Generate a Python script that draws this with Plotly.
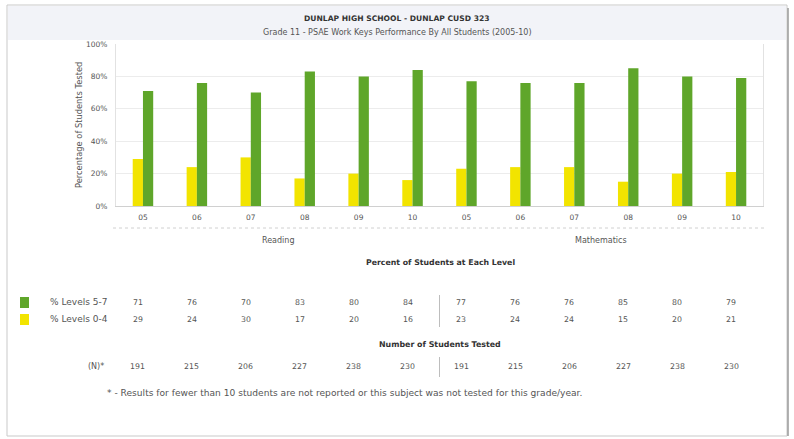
import plotly.graph_objects as go

# Data: PSAE Work Keys, Grade 11, all students
subjects = ["Reading", "Mathematics"]
years = ["05", "06", "07", "08", "09", "10"]
levels_5_7 = [71, 76, 70, 83, 80, 84, 77, 76, 76, 85, 80, 79]
levels_0_4 = [29, 24, 30, 17, 20, 16, 23, 24, 24, 15, 20, 21]
n_tested = [191, 215, 206, 227, 238, 230, 191, 215, 206, 227, 238, 230]
y_ticks = [0, 20, 40, 60, 80, 100]

GREEN = "#5fa62a"
YELLOW = "#f2e400"
TEXT = "#555555"
FONT = "DejaVu Sans"

W, H = 794, 439
L, R, T, B = 116, 31, 44, 233
PW, PH = W - L - R, H - T - B

def px(x):
    return (x - L) / PW

def py(y):
    return (H - B - y) / PH

positions = list(range(len(years) * len(subjects)))
tick_text = years * len(subjects)

fig = go.Figure()
fig.add_trace(go.Bar(x=positions, y=levels_0_4, name="% Levels 0-4",
                     marker=dict(color=YELLOW, line=dict(width=0))))
fig.add_trace(go.Bar(x=positions, y=levels_5_7, name="% Levels 5-7",
                     marker=dict(color=GREEN, line=dict(width=0))))

fig.update_layout(
    width=W, height=H,
    margin=dict(l=L, r=R, t=T, b=B),
    paper_bgcolor="white", plot_bgcolor="white",
    barmode="group", bargap=0.62, bargroupgap=0,
    showlegend=False,
    font=dict(family=FONT, size=8, color=TEXT),
)
fig.update_xaxes(
    tickmode="array", tickvals=positions, ticktext=tick_text,
    range=[-0.5, len(positions) - 0.5],
    showgrid=False, zeroline=False,
    showline=True, linecolor="#d0d0d0", linewidth=1,
    ticks="", tickfont=dict(size=7.5, color=TEXT), ticklabelstandoff=4,
)
fig.update_yaxes(
    range=[0, 100], tickmode="array", tickvals=y_ticks,
    ticktext=[f"{v}%" for v in y_ticks],
    showgrid=True, gridcolor="#ececec", gridwidth=1,
    zeroline=False, showline=True, linecolor="#e2e2e2",
    ticks="", tickfont=dict(size=7.5, color=TEXT), ticklabelstandoff=6,
    mirror=True,
)

shapes = []
# outer panel frame and light header band
shapes.append(dict(type="rect", xref="paper", yref="paper",
                   x0=px(8), x1=px(786), y0=py(6), y1=py(40),
                   fillcolor="#f2f3f8", line=dict(width=0), layer="below"))
shapes.append(dict(type="rect", xref="paper", yref="paper",
                   x0=px(7), x1=px(787), y0=py(5), y1=py(436),
                   fillcolor="rgba(0,0,0,0)", line=dict(color="#c9c9c9", width=1)))
shapes.append(dict(type="line", xref="paper", yref="paper",
                   x0=px(788), x1=px(788), y0=py(8), y1=py(436),
                   line=dict(color="#9a9a9a", width=1.5)))
# dotted rule under the year labels
shapes.append(dict(type="line", xref="paper", yref="paper",
                   x0=px(113), x1=px(764), y0=py(228), y1=py(228),
                   line=dict(color="#d0d0d0", width=1, dash="dot")))
# legend swatches
shapes.append(dict(type="rect", xref="paper", yref="paper",
                   x0=px(20), x1=px(29), y0=py(297), y1=py(308),
                   fillcolor=GREEN, line=dict(width=0)))
shapes.append(dict(type="rect", xref="paper", yref="paper",
                   x0=px(20), x1=px(29), y0=py(314), y1=py(325),
                   fillcolor=YELLOW, line=dict(width=0)))
# separators between subjects in the tables
for xs in (len(years) - 0.5, len(positions) - 0.4):
    for y0, y1 in ((295, 327), (357, 377)):
        shapes.append(dict(type="line", xref="x", yref="paper",
                           x0=xs, x1=xs, y0=py(y0), y1=py(y1),
                           line=dict(color="#bdbdbd", width=1)))
fig.update_layout(shapes=shapes)

ann = []

def text(x, y, s, size=8, bold=False, xref="paper", xanchor="center", **kw):
    ann.append(dict(
        x=x if xref != "paper" else px(x), y=py(y), xref=xref, yref="paper",
        text=f"<b>{s}</b>" if bold else s, showarrow=False,
        xanchor=xanchor, yanchor="middle",
        font=dict(family=FONT, size=size, color="#333333" if bold else TEXT),
        **kw))

text(397, 19, "DUNLAP HIGH SCHOOL - DUNLAP CUSD 323", size=7.6, bold=True)
text(397, 33, "Grade 11 - PSAE Work Keys Performance By All Students (2005-10)", size=8)
ann.append(dict(x=px(72), y=py(125), xref="paper", yref="paper",
                text="Percentage of Students Tested", textangle=-90,
                showarrow=False, font=dict(family=FONT, size=8.3, color=TEXT)))

for i, subj in enumerate(subjects):
    mid = i * len(years) + (len(years) - 1) / 2
    text(mid, 240, subj, size=8, xref="x")

text(440, 262, "Percent of Students at Each Level", size=7.8, bold=True)
text(48, 302, "% Levels 5-7", size=9, xanchor="left")
text(48, 319, "% Levels 0-4", size=9, xanchor="left")
for p, hi, lo in zip(positions, levels_5_7, levels_0_4):
    text(p, 302, str(hi), size=7.8, xref="x", xshift=-5)
    text(p, 319, str(lo), size=7.8, xref="x", xshift=-5)

text(440, 344, "Number of Students Tested", size=7.9, bold=True)
text(106, 366, "(N)*", size=8, xanchor="right")
for p, n in zip(positions, n_tested):
    text(p, 366, str(n), size=7.8, xref="x", xshift=-5)

text(105, 393, "* - Results for fewer than 10 students are not reported or this subject was not tested for this grade/year.",
     size=9.1, xanchor="left")

fig.update_layout(annotations=ann)
fig.write_html("out.html")
